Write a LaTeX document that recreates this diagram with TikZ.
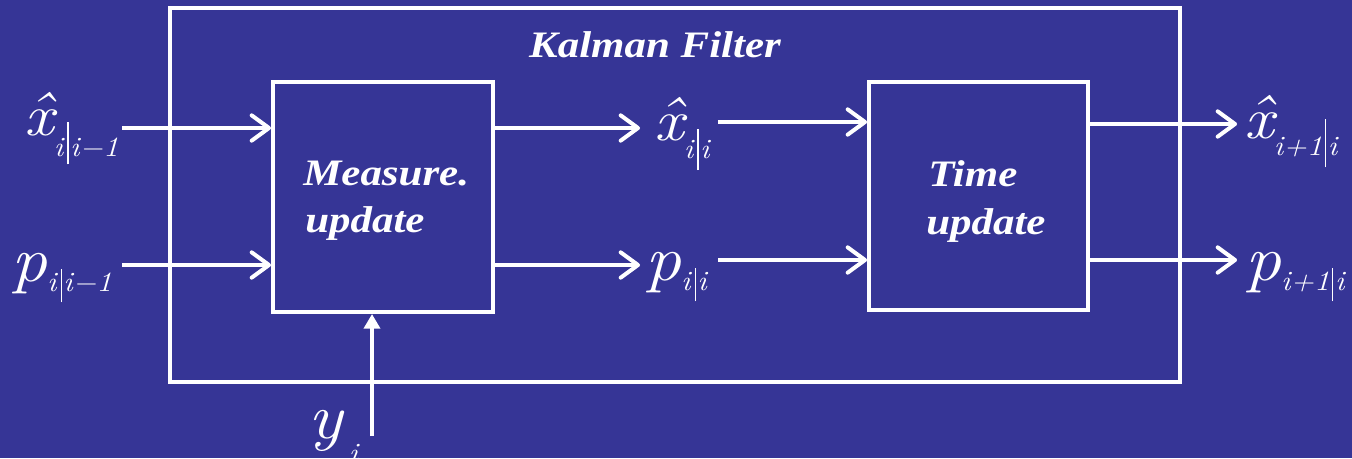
\documentclass[tikz,border=0pt]{standalone}
\usepackage{fontspec}
\setmainfont{Liberation Serif}[FakeStretch=1.15]
\newfontfamily\lmf{Latin Modern Roman}[FakeStretch=1.12]
\usetikzlibrary{arrows.meta}
\definecolor{bg}{RGB}{54,53,150}
\newcommand\xh{\ooalign{x\cr\hidewidth\raisebox{0.04em}{ˆ}\hidewidth\cr}}
\newcommand\sbar[2]{\/\hspace{2pt}\rule[-#1]{0.8pt}{#2}\hspace{1.2pt}}
\newcommand\mainf{\lmf\fontsize{44}{44}\selectfont\itshape}
\newcommand\pf{\lmf\fontsize{48}{48}\selectfont\itshape}
\newcommand\subf{\lmf\fontsize{21}{21}\selectfont\itshape}
\begin{document}
\begin{tikzpicture}[x=0.75pt,y=-0.75pt,
  box/.style={draw=white,line width=3pt,inner sep=0pt},
  arr/.style={draw=white,line width=3pt,-{Straight Barb[length=13pt,width=19pt,round]}},
  uparr/.style={draw=white,line width=3pt,-{Triangle[length=11pt,width=12pt]}},
  lbl/.style={text=white,inner sep=0pt,anchor=base west},
  bt/.style={text=white,inner sep=0pt,anchor=base west,font=\fontsize{28}{28}\selectfont\bfseries\itshape}]
\fill[bg] (0,0) rectangle (1352,458);
\useasboundingbox (0,0) rectangle (1352,458);
% boxes
\node[box,minimum width=757.5pt,minimum height=280.5pt] (kf) at (675,195) {};
\node[box,minimum width=165pt,minimum height=172.5pt] (mu) at (383,197) {};
\node[box,minimum width=164.25pt,minimum height=171pt] (tu) at (978.5,196) {};
% texts
\node[bt,anchor=base] (title) at (655,57) {Kalman Filter};
\node[bt] (m1) at (303,185) {Measure.};
\node[bt] (m2) at (305,232) {update};
\node[bt] (t1) at (928,186) {Time};
\node[bt] (t2) at (926,234) {update};
% labels
\node[lbl] (xin) at (24,135) {{\mainf\xh}\raisebox{-16pt}{\subf i\sbar{6pt}{32pt}i−1}};
\node[lbl] (pin) at (11,281) {{\pf p}\raisebox{-8pt}{\subf i\sbar{8pt}{25pt}i−1}};
\node[lbl] (xmid) at (654,140) {{\mainf\xh}\raisebox{-13.5pt}{\subf i\sbar{9pt}{31pt}i}};
\node[lbl] (pmid) at (645,280) {{\pf p}\raisebox{-8pt}{\subf i\sbar{8pt}{25pt}i}};
\node[lbl] (xout) at (1244,138) {{\mainf\xh}\raisebox{-13pt}{\subf i+1\sbar{9pt}{36pt}i}};
\node[lbl] (pout) at (1245,280) {{\pf p}\raisebox{-8pt}{\subf i+1\sbar{8pt}{25pt}i}};
\node[lbl] (yin) at (308,438) {{\pf y}\raisebox{-18pt}{\subf\hspace{5pt}i}};
% coordinates
\coordinate (a1) at (122,128);
\coordinate (a2) at (122,265);
\coordinate (b1) at (640,128);
\coordinate (b2) at (640,265);
\coordinate (c1) at (718,122);
\coordinate (c2) at (718,260);
\coordinate (d1) at (1237,124);
\coordinate (d2) at (1237,260);
\coordinate (e) at (372,436);
% arrows
\draw[arr] (a1) -- (mu.west |- a1);
\draw[arr] (a2) -- (mu.west |- a2);
\draw[arr] (mu.east |- b1) -- (b1);
\draw[arr] (mu.east |- b2) -- (b2);
\draw[arr] (c1) -- (tu.west |- c1);
\draw[arr] (c2) -- (tu.west |- c2);
\draw[arr] (tu.east |- d1) -- (d1);
\draw[arr] (tu.east |- d2) -- (d2);
\draw[uparr] (e) -- (mu.south -| e);
\end{tikzpicture}
\end{document}
